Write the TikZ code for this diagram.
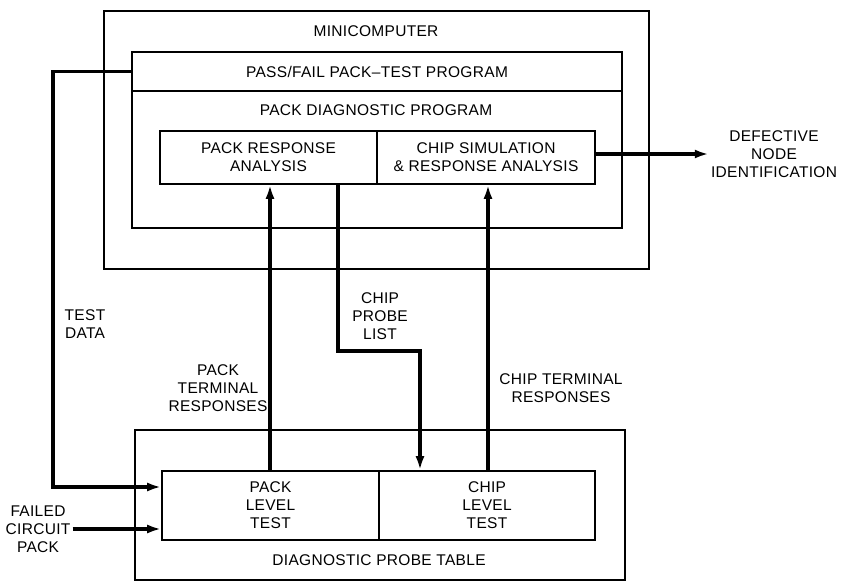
\documentclass[tikz,border=0pt]{standalone}
\usepackage{fontspec}
\setmainfont{Liberation Sans}[LetterSpace=2]
\usetikzlibrary{arrows.meta}
\begin{document}
\begin{tikzpicture}[x=1pt,y=-1pt,font=\fontsize{15.5}{18}\selectfont,
	box/.style={draw,line width=1.6pt,inner sep=0pt,align=center},
	lbl/.style={align=center,inner sep=2pt},
	flow/.style={line width=3.2pt,-{Latex[length=14pt,width=9pt]}}]
	
	\useasboundingbox (0,0) rectangle (843,582);
	
	% minicomputer side
	\node[box,minimum width=545pt,minimum height=258pt] (mini) at (376.5,140) {};
	\node[lbl] (minitxt) at (376,31) {MINICOMPUTER};
	\node[box,minimum width=490pt,minimum height=39pt] (passfail) at (377,71.5) {PASS/FAIL PACK--TEST PROGRAM};
	\node[box,minimum width=490pt,minimum height=137pt] (diag) at (377,159.5) {};
	\node[lbl] (diagtxt) at (376,110) {PACK DIAGNOSTIC PROGRAM};
	\node[box,minimum width=217pt,minimum height=53pt] (panal) at (268.5,157.5) {PACK RESPONSE\\ANALYSIS};
	\node[box,minimum width=218pt,minimum height=53pt] (canal) at (486,157.5) {CHIP SIMULATION\\\& RESPONSE ANALYSIS};
	
	% probe table side
	\node[box,minimum width=490pt,minimum height=150pt] (table) at (380,505) {};
	\node[lbl] (tabletxt) at (379,560) {DIAGNOSTIC PROBE TABLE};
	\node[box,minimum width=217pt,minimum height=69pt] (packtest) at (270.5,505.5) {PACK\\LEVEL\\TEST};
	\node[box,minimum width=216pt,minimum height=69pt] (chiptest) at (487,505.5) {CHIP\\LEVEL\\TEST};
	
	% labels
	\node[lbl] (defect) at (774,154) {DEFECTIVE\\NODE\\IDENTIFICATION};
	\node[lbl] (testdata) at (85,324) {TEST\\DATA};
	\node[lbl] (packresp) at (218,388) {PACK\\TERMINAL\\RESPONSES};
	\node[lbl] (probelist) at (380,316) {CHIP\\PROBE\\LIST};
	\node[lbl] (chipresp) at (561,388) {CHIP TERMINAL\\RESPONSES};
	\node[lbl] (failed) at (38,529) {FAILED\\CIRCUIT\\PACK};
	
	\coordinate (tdcol) at (53,487);
	\coordinate (prcol) at (270,0);
	\coordinate (plleft) at (338,351);
	\coordinate (plright) at (420,351);
	\coordinate (crcol) at (488,0);
	
	\draw[flow] (passfail.west) -| (tdcol) -- (tdcol -| packtest.west);
	\draw[flow] (failed.east) -- (failed.east -| packtest.west);
	\draw[flow] (packtest.north -| prcol) -- (panal.south -| prcol);
	\draw[flow] (panal.south -| plleft) -- (plleft) -- (plright) -- (chiptest.north -| plright);
	\draw[flow] (chiptest.north -| crcol) -- (canal.south -| crcol);
	\draw[flow] (canal.east |- defect.west) -- (defect.west);
\end{tikzpicture}
\end{document}
